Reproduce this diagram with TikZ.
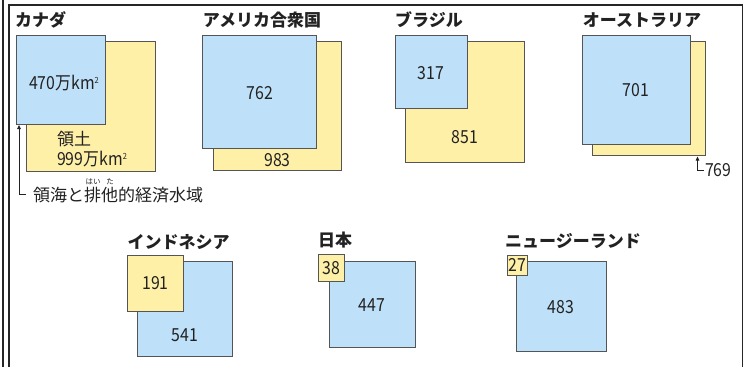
\documentclass[tikz,border=0pt]{standalone}
\usepackage{fontspec}
\setmainfont{Noto Sans CJK JP}
\newfontfamily\numf[FakeStretch=0.88]{Noto Sans CJK JP}
\usetikzlibrary{arrows.meta}
\definecolor{bluefill}{HTML}{BEE0F8}
\definecolor{yelfill}{HTML}{FFF0A8}
\definecolor{edge}{HTML}{555555}
\definecolor{ink}{HTML}{222222}
\newcommand\kmsq{万km\raisebox{0.6ex}{\fontsize{8.5}{8.5}\selectfont 2}}
\begin{document}
\begin{tikzpicture}[x=1pt,y=-1pt,
  box/.style={draw=edge,line width=0.9pt,inner sep=0pt,outer sep=0pt,anchor=north west},
  bluebox/.style={box,fill=bluefill},
  yelbox/.style={box,fill=yelfill},
  title/.style={anchor=west,inner sep=0pt,font=\fontsize{17}{18}\selectfont\bfseries,text=ink},
  num/.style={inner sep=0pt,font=\fontsize{18}{20}\selectfont\numf,text=ink},
  note/.style={inner sep=0pt,anchor=west,font=\fontsize{17}{18}\selectfont,text=ink},
  ruby/.style={inner sep=0pt,font=\fontsize{7.5}{8}\selectfont,text=ink},
  frameline/.style={line width=1.4pt,draw=black!85},
  lead/.style={draw=ink,line width=0.8pt}]
\useasboundingbox (0,0) rectangle (745,367);
% frame
\draw[frameline] (3,0) -- (3,367);
\draw[frameline] (9,367) -- (9,5) -- (742.5,5) -- (742.5,367);

% Canada
\node[title] (canT) at (15,20) {カナダ};
\node[yelbox,minimum width=129pt,minimum height=130pt] (canY) at (26.7,41.7) {};
\node[bluebox,minimum width=89pt,minimum height=88.3pt] (canB) at (16,35.7) {};
\node[num] (canBn) at (64,83) {470\kmsq};
\node[note] (canYt) at (57,139) {領土};
\node[num,anchor=west] (canYn) at (57,159) {999\kmsq};
\coordinate (canTip) at (19,125);
\coordinate (canCorner) at (19,194);
\coordinate (canEnd) at (26,194);
\draw[lead,{Triangle[length=4pt,width=3.5pt]}-] (canTip) -- (canCorner) -- (canEnd);
\node[note] (canNote) at (33,195) {領海と排他的経済水域};
\node[ruby] (rubyA) at (93,181.5) {はい};
\node[ruby] (rubyB) at (110,181.5) {た};

% USA
\node[title] (usaT) at (202.7,20) {アメリカ合衆国};
\node[yelbox,minimum width=128.4pt,minimum height=128.3pt] (usaY) at (213.3,41.7) {};
\node[bluebox,minimum width=113.3pt,minimum height=113.3pt] (usaB) at (202.7,35) {};
\node[num] (usaBn) at (260,93) {762};
\node[num] (usaYn) at (277.5,160) {983};

% Brazil
\node[title] (braT) at (395,20) {ブラジル};
\node[yelbox,minimum width=119.3pt,minimum height=120.6pt] (braY) at (405,41.7) {};
\node[bluebox,minimum width=72.7pt,minimum height=73.3pt] (braB) at (395,35) {};
\node[num] (braBn) at (431,73) {317};
\node[num] (braYn) at (465,137) {851};

% Australia
\node[title] (ausT) at (582.7,20) {オーストラリア};
\node[yelbox,minimum width=113.4pt,minimum height=114pt] (ausY) at (592.3,41.7) {};
\node[bluebox,minimum width=107.3pt,minimum height=109pt] (ausB) at (582.7,35) {};
\node[num] (ausBn) at (636,90) {701};
\coordinate (ausTip) at (697.5,156.5);
\coordinate (ausCorner) at (697.5,170);
\coordinate (ausEnd) at (703.5,170);
\draw[lead,{Triangle[length=4pt,width=3.5pt]}-] (ausTip) -- (ausCorner) -- (ausEnd);
\node[num,anchor=west] (ausYn) at (705,170) {769};

% Indonesia
\node[title] (idnT) at (127.3,241.7) {インドネシア};
\node[bluebox,minimum width=95.4pt,minimum height=95pt] (idnB) at (137.3,261.7) {};
\node[yelbox,minimum width=56pt,minimum height=56pt] (idnY) at (127.3,255) {};
\node[num] (idnYn) at (155.5,283) {191};
\node[num] (idnBn) at (185,335) {541};

% Japan
\node[title] (jpnT) at (318,240) {日本};
\node[bluebox,minimum width=86.7pt,minimum height=86pt] (jpnB) at (329,261.7) {};
\node[yelbox,minimum width=26pt,minimum height=26.7pt] (jpnY) at (318.3,254.3) {};
\node[num] (jpnYn) at (331.3,267.7) {38};
\node[num] (jpnBn) at (372,305) {447};

% New Zealand
\node[title] (nzlT) at (505,241) {ニュージーランド};
\node[bluebox,minimum width=90pt,minimum height=90pt] (nzlB) at (516.7,261.7) {};
\node[yelbox,minimum width=20pt,minimum height=20pt] (nzlY) at (507.3,255) {};
\node[num] (nzlYn) at (517.3,265) {27};
\node[num] (nzlBn) at (561,307) {483};
\end{tikzpicture}
\end{document}
